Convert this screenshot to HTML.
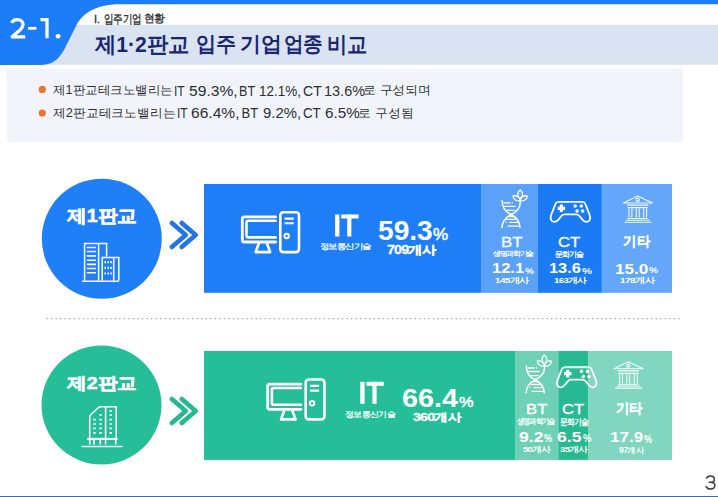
<!DOCTYPE html><html><head><meta charset="utf-8"><style>*{margin:0;padding:0}html,body{width:718px;height:497px;overflow:hidden;background:#fff}body{position:relative;font-family:"Liberation Sans",sans-serif}.t{position:absolute;white-space:nowrap;line-height:1;transform-origin:0 0}svg{position:absolute;left:0;top:0}</style></head><body><svg width="718" height="497" viewBox="0 0 718 497">
  
  <rect x="0" y="24.8" width="718" height="40" fill="#dae3f1"/>
  <path d="M0 0 H718 V4.3 H120 C95 4.3 82 14 76 26 L64 50 C58 60 52 65 40 65 H0 Z" fill="#1d7cf8"/>
  <g fill="none" stroke="#fff" stroke-width="3.3">
    <path d="M11.7 22.8 C12.6 20.6 14.6 19.6 17.3 19.6 C20.6 19.6 23 21.6 23 24.6 C23 26.6 22 28 20.3 29.7 L12.2 36.85 H25.3" stroke-linejoin="round"/>
    <path d="M28.1 28.3 H36.5" stroke-width="2.7"/>
    <path d="M40.5 19.55 H47 V38.3" stroke-width="3.3"/>
  </g>
  <circle cx="58.1" cy="36.3" r="2.4" fill="#fff"/>
  <rect x="6.5" y="68.3" width="676.5" height="73.8" fill="#f1f5fb"/>
  <circle cx="42.3" cy="89.4" r="3.6" fill="#e8772e"/>
  <circle cx="42.3" cy="113" r="3.6" fill="#e8772e"/>
  <!-- section 1 -->
  <circle cx="101.8" cy="238.8" r="60" fill="#1f7ff7"/>
  <rect x="204" y="184" width="277.7" height="108.8" fill="#1d7ef8"/>
  <rect x="481.7" y="184" width="56.3" height="108.8" fill="#5ca1f8"/>
  <rect x="538" y="184" width="63.9" height="108.8" fill="#1a7bf5"/>
  <rect x="601.9" y="184" width="70.1" height="108.8" fill="#64a6f9"/>
  <!-- section 2 -->
  <ellipse cx="101.5" cy="405.05" rx="60" ry="59.5" fill="#25be98"/>
  <rect x="204" y="351" width="311" height="108.9" fill="#25be98"/>
  <rect x="515" y="351" width="43.3" height="108.9" fill="#6ed0b4"/>
  <rect x="558.3" y="351" width="30.2" height="108.9" fill="#27b991"/>
  <rect x="588.5" y="351" width="83.5" height="108.9" fill="#80d6bf"/>
  <!-- dotted line -->
  <line x1="46.4" y1="318.7" x2="680" y2="318.7" stroke="#a6a6a6" stroke-width="1.2" stroke-dasharray="1.4 3.146"/>
  <rect x="0" y="496" width="718" height="1" fill="#3d6aa6"/>
  <path d="M706.6 478 C707.5 476.5 709 475.9 710.6 475.9 C712.8 475.9 714.3 477.3 714.3 479.2 C714.3 481 712.8 482.3 710.8 482.3 H709.2 M710.8 482.3 C713.2 482.3 714.9 483.7 714.9 485.6 C714.9 487.6 713 489.1 710.6 489.1 C708.6 489.1 707 488.2 706.1 486.6" fill="none" stroke="#3a3a3a" stroke-width="1.5" stroke-linecap="round"/>
  <!-- chevrons -->
  <path d="M171.8 222.9 L185.8 235.1 L171.8 246.9 M181.7 222.9 L195.7 235.1 L181.7 246.9" fill="none" stroke="#2474e8" stroke-width="4.6" stroke-linecap="round" stroke-linejoin="round"/>
  <path d="M171.8 399 L185.8 411 L171.8 423 M181.7 399 L195.7 411 L181.7 423" fill="none" stroke="#25b891" stroke-width="4.6" stroke-linecap="round" stroke-linejoin="round"/>
  <!-- building 1 -->
  <g fill="none" stroke="#fff" stroke-width="1.5">
    <path d="M82.2 281.2 H119"/>
    <path d="M84.6 280.5 V243.6 H106.6 V256.5 M98.6 243.6 V280.5"/>
    <path d="M86.8 247.5 H96 M86.8 251.5 H96 M86.8 255.9 H96 M86.8 260.2 H96 M86.8 264.4 H96 M86.8 268.5 H96 M86.8 272.8 H96" stroke-width="1.6"/>
    <path d="M102.2 280.5 V257.4 H118.8 V280.5 M113.7 257.4 V280.5"/>
    <path d="M104.5 262.1 H106 M107.5 262.1 H109 M110.3 262.1 H111.8 M104.5 267.9 H106 M107.5 267.9 H109 M110.3 267.9 H111.8 M104.5 273.5 H106 M107.5 273.5 H109 M110.3 273.5 H111.8" stroke-width="2.2"/>
  </g>
  <!-- building 2 -->
  <g fill="none" stroke="#fff" stroke-width="1.5">
    <path d="M81.4 446.6 H122.5"/>
    <path d="M89.7 438.2 V417.5 Q89.7 415.5 91 414.5 L98.5 407.6 Q99 406.8 100.3 406.8 H116.2 V438.2 M105.6 406.8 V444.5"/>
    <path d="M87.2 438.9 H117.6" stroke-width="2"/>
    <path d="M89.7 439 V444.5 M94 439 V444.5 M100.3 439 V444.5 M115.7 439 V444.5" stroke-width="1.6"/>
    <path d="M99.3 415 H101.8 M93.3 419.7 H95.8 M99.3 419.7 H101.8 M93.3 424 H95.8 M99.3 424 H101.8 M93.3 428.4 H95.8 M99.3 428.4 H101.8 M93.3 432.9 H95.8 M99.3 432.9 H101.8 M109.5 411.2 H112 M109.5 415 H112 M109.5 419.7 H112 M109.5 424 H112 M109.5 428.4 H112 M109.5 432.9 H112" stroke-width="1.7"/>
  </g>
  <g fill="#fff">
    <rect x="335.1" y="214.5" width="4.3" height="22"/>
    <rect x="341.2" y="214.5" width="17.4" height="4"/>
    <rect x="347.2" y="214.5" width="4.2" height="22"/>
  </g>
  <g transform="translate(25.2 167.3)"><g fill="#fff">
    <rect x="335.1" y="214.5" width="4.3" height="22"/>
    <rect x="341.2" y="214.5" width="17.4" height="4"/>
    <rect x="347.2" y="214.5" width="4.2" height="22"/>
  </g></g>
  <g fill="none" stroke="#fff" stroke-linecap="round" stroke-linejoin="round">
      <path d="M275.6 216.9 H244.3 Q242.3 216.9 242.3 218.9 V240 Q242.3 242 244.3 242 H275.6" stroke-width="2.8"/>
      <path d="M275.6 220.7 H248.3 Q246.5 220.7 246.5 222.5 V235.6 Q246.5 237.4 248.3 237.4 H275.6" stroke-width="2.6"/>
      <path d="M258.8 243.5 L255.6 252.1 H270.2 L267 243.5" stroke-width="2.6"/>
      <rect x="280.3" y="212.2" width="18.7" height="39.9" rx="3" stroke-width="2.6"/>
      <path d="M284.6 218.6 H293.7 M284.6 223.3 H293.7" stroke-width="2.1" stroke-linecap="butt"/>
      <circle cx="286.7" cy="236" r="2.2" stroke-width="2"/>
    </g>
  <g transform="translate(25.4 167.3)"><g fill="none" stroke="#fff" stroke-linecap="round" stroke-linejoin="round">
      <path d="M275.6 216.9 H244.3 Q242.3 216.9 242.3 218.9 V240 Q242.3 242 244.3 242 H275.6" stroke-width="2.8"/>
      <path d="M275.6 220.7 H248.3 Q246.5 220.7 246.5 222.5 V235.6 Q246.5 237.4 248.3 237.4 H275.6" stroke-width="2.6"/>
      <path d="M258.8 243.5 L255.6 252.1 H270.2 L267 243.5" stroke-width="2.6"/>
      <rect x="280.3" y="212.2" width="18.7" height="39.9" rx="3" stroke-width="2.6"/>
      <path d="M284.6 218.6 H293.7 M284.6 223.3 H293.7" stroke-width="2.1" stroke-linecap="butt"/>
      <circle cx="286.7" cy="236" r="2.2" stroke-width="2"/>
    </g></g>
  <g fill="none" stroke="#fff" stroke-width="1.5" stroke-linecap="round">
      <path d="M502.1 200.5 C502.1 207.5 505.5 212 511 214.5 C505.5 217.5 502.1 222 502.1 227.5"/>
      <path d="M520.3 202.2 C520.3 208.5 516.5 212 511 214.5 C516.5 217.5 519.9 222 519.9 227.5"/>
      <path d="M503.8 202.8 H510.3 M512.4 202.8 H512.5 M504.5 206.3 H515.1 M506.2 210.4 H513 M514.4 210.4 H514.5 M508.3 216.5 H514.4 M506.9 219.3 H516.5 M506.2 222.4 H506.3 M510 222.4 H517.9 M507.9 226.1 H518.5" stroke-width="1.3"/>
      <path d="M520.2 189.9 C523.4 192.5 523.4 196 520.2 198.6 C517 196 517 192.5 520.2 189.9 Z" stroke-width="1.3"/>
      <path d="M513 196 C516.5 195 520 197 520.2 200.8 C516.5 201.5 513.5 199.5 513 196 Z" stroke-width="1.3"/>
      <path d="M527.4 196 C523.9 195 520.4 197 520.2 200.8 C523.9 201.5 526.9 199.5 527.4 196 Z" stroke-width="1.3"/>
    </g>
  <g transform="translate(24.2 165.2)"><g fill="none" stroke="#fff" stroke-width="1.5" stroke-linecap="round">
      <path d="M502.1 200.5 C502.1 207.5 505.5 212 511 214.5 C505.5 217.5 502.1 222 502.1 227.5"/>
      <path d="M520.3 202.2 C520.3 208.5 516.5 212 511 214.5 C516.5 217.5 519.9 222 519.9 227.5"/>
      <path d="M503.8 202.8 H510.3 M512.4 202.8 H512.5 M504.5 206.3 H515.1 M506.2 210.4 H513 M514.4 210.4 H514.5 M508.3 216.5 H514.4 M506.9 219.3 H516.5 M506.2 222.4 H506.3 M510 222.4 H517.9 M507.9 226.1 H518.5" stroke-width="1.3"/>
      <path d="M520.2 189.9 C523.4 192.5 523.4 196 520.2 198.6 C517 196 517 192.5 520.2 189.9 Z" stroke-width="1.3"/>
      <path d="M513 196 C516.5 195 520 197 520.2 200.8 C516.5 201.5 513.5 199.5 513 196 Z" stroke-width="1.3"/>
      <path d="M527.4 196 C523.9 195 520.4 197 520.2 200.8 C523.9 201.5 526.9 199.5 527.4 196 Z" stroke-width="1.3"/>
    </g></g>
  <g stroke="#fff" stroke-linejoin="round">
      <path d="M558.5 201.85 H582.3 Q584.6 201.85 585.3 203.9 L589.5 214.5 Q590.8 218 589.8 219.9 Q588.6 222 586.4 221.9 Q584.4 221.8 582.4 219.6 L579.4 216 Q578 214.3 576.2 214.3 H564.6 Q562.8 214.3 561.4 216 L558.4 219.6 Q556.4 221.8 554.4 221.9 Q552.2 222 551 219.9 Q550 218 551.3 214.5 L555.5 203.9 Q556.2 201.85 558.5 201.85 Z" fill="none" stroke-width="1.8"/>
      <path d="M561.4 204.6 V212 M557.7 208.3 H565.1" stroke-width="3.2" stroke-linecap="butt"/>
      <g fill="#fff" stroke="none">
        <circle cx="575.2" cy="206" r="1.8"/><circle cx="581.3" cy="206" r="1.8"/>
        <circle cx="577.1" cy="211.1" r="1.8"/><circle cx="582.6" cy="211.1" r="1.8"/>
      </g>
    </g>
  <g transform="translate(6.3 165.4)"><g stroke="#fff" stroke-linejoin="round">
      <path d="M558.5 201.85 H582.3 Q584.6 201.85 585.3 203.9 L589.5 214.5 Q590.8 218 589.8 219.9 Q588.6 222 586.4 221.9 Q584.4 221.8 582.4 219.6 L579.4 216 Q578 214.3 576.2 214.3 H564.6 Q562.8 214.3 561.4 216 L558.4 219.6 Q556.4 221.8 554.4 221.9 Q552.2 222 551 219.9 Q550 218 551.3 214.5 L555.5 203.9 Q556.2 201.85 558.5 201.85 Z" fill="none" stroke-width="1.8"/>
      <path d="M561.4 204.6 V212 M557.7 208.3 H565.1" stroke-width="3.2" stroke-linecap="butt"/>
      <g fill="#fff" stroke="none">
        <circle cx="575.2" cy="206" r="1.8"/><circle cx="581.3" cy="206" r="1.8"/>
        <circle cx="577.1" cy="211.1" r="1.8"/><circle cx="582.6" cy="211.1" r="1.8"/>
      </g>
    </g></g>
  <g fill="none" stroke="#fff" stroke-width="1.1" opacity="0.92" stroke-linecap="butt">
      <path d="M623.5 203 L637.7 196 L652.5 203 Z" stroke-linejoin="round"/>
      <circle cx="637.7" cy="199.8" r="1.6" stroke-width="1.2"/>
      <path d="M627.1 205.1 H648.3 M627.5 207.6 H648"/>
      <path d="M629 208.5 V217.5 M631.9 208.5 V217.5 M636.3 208.5 V217.5 M639.2 208.5 V217.5 M643.7 208.5 V217.5 M646.6 208.5 V217.5"/>
      <path d="M627.7 218.5 H647.7 M626.1 220.2 H649.6 M624.5 222.3 H651.6"/>
    </g>
  <g transform="translate(-9.4 165.8)"><g fill="none" stroke="#fff" stroke-width="1.1" opacity="0.92" stroke-linecap="butt">
      <path d="M623.5 203 L637.7 196 L652.5 203 Z" stroke-linejoin="round"/>
      <circle cx="637.7" cy="199.8" r="1.6" stroke-width="1.2"/>
      <path d="M627.1 205.1 H648.3 M627.5 207.6 H648"/>
      <path d="M629 208.5 V217.5 M631.9 208.5 V217.5 M636.3 208.5 V217.5 M639.2 208.5 V217.5 M643.7 208.5 V217.5 M646.6 208.5 V217.5"/>
      <path d="M627.7 218.5 H647.7 M626.1 220.2 H649.6 M624.5 222.3 H651.6"/>
    </g></g>
</svg>

<div class="t" style="left:93.90px;top:14.10px;font-size:10px;font-weight:normal;color:#2e2e2e;transform:scale(1.1000,1.1625);-webkit-text-stroke:0.3px #2e2e2e;">I.</div>
<div class="t" style="left:104.05px;top:12.91px;font-size:10px;font-weight:normal;color:#2e2e2e;transform:scale(0.9486,1.1875);-webkit-text-stroke:0.3px #2e2e2e;">입주기업</div>
<div class="t" style="left:143.97px;top:14.10px;font-size:10px;font-weight:normal;color:#2e2e2e;transform:scale(1.0278,1.0556);-webkit-text-stroke:0.3px #2e2e2e;">현황</div>
<div class="t" style="left:95.20px;top:33.12px;font-size:20px;font-weight:bold;color:#1a2670;transform:scale(1.0568,1.0889);">제1·2판교</div>
<div class="t" style="left:195.91px;top:33.24px;font-size:20px;font-weight:bold;color:#1a2670;transform:scale(0.9868,1.0316);">입주</div>
<div class="t" style="left:239.97px;top:33.24px;font-size:20px;font-weight:bold;color:#1a2670;transform:scale(1.0278,1.0316);">기업</div>
<div class="t" style="left:284.34px;top:33.24px;font-size:20px;font-weight:bold;color:#1a2670;transform:scale(0.9605,1.0316);">업종</div>
<div class="t" style="left:327.20px;top:33.12px;font-size:20px;font-weight:bold;color:#1a2670;transform:scale(1.0000,1.0889);">비교</div>
<div class="t" style="left:53.23px;top:83.67px;font-size:13px;font-weight:normal;color:#2e2e2e;transform:scale(0.9661,0.9250);">제1판교테크노밸리는</div>
<div class="t" style="left:174.07px;top:82.77px;font-size:13px;font-weight:normal;color:#2e2e2e;transform:scale(0.9300,1.1667);">IT</div>
<div class="t" style="left:188.50px;top:82.77px;font-size:13px;font-weight:normal;color:#2e2e2e;transform:scale(1.2026,1.1667);">59.3%,</div>
<div class="t" style="left:238.93px;top:82.77px;font-size:13px;font-weight:normal;color:#2e2e2e;transform:scale(0.9667,1.1667);">BT</div>
<div class="t" style="left:259.46px;top:82.77px;font-size:13px;font-weight:normal;color:#2e2e2e;transform:scale(1.0395,1.1667);">12.1%,</div>
<div class="t" style="left:302.82px;top:82.77px;font-size:13px;font-weight:normal;color:#2e2e2e;transform:scale(1.0813,1.1667);">CT</div>
<div class="t" style="left:323.99px;top:82.77px;font-size:13px;font-weight:normal;color:#2e2e2e;transform:scale(1.1143,1.1667);">13.6%</div>
<div class="t" style="left:362.81px;top:83.67px;font-size:13px;font-weight:normal;color:#2e2e2e;transform:scale(0.9954,0.9250);">로 구성되며</div>
<div class="t" style="left:53.21px;top:107.27px;font-size:13px;font-weight:normal;color:#2e2e2e;transform:scale(0.9876,0.9333);">제2판교테크노밸리는</div>
<div class="t" style="left:176.88px;top:106.36px;font-size:13px;font-weight:normal;color:#2e2e2e;transform:scale(0.9200,1.1222);">IT</div>
<div class="t" style="left:190.80px;top:106.36px;font-size:13px;font-weight:normal;color:#2e2e2e;transform:scale(1.2000,1.1222);">66.4%,</div>
<div class="t" style="left:241.50px;top:106.36px;font-size:13px;font-weight:normal;color:#2e2e2e;transform:scale(1.0000,1.1222);">BT</div>
<div class="t" style="left:263.05px;top:106.36px;font-size:13px;font-weight:normal;color:#2e2e2e;transform:scale(1.1452,1.1222);">9.2%,</div>
<div class="t" style="left:303.18px;top:106.36px;font-size:13px;font-weight:normal;color:#2e2e2e;transform:scale(1.0250,1.1222);">CT</div>
<div class="t" style="left:324.53px;top:106.36px;font-size:13px;font-weight:normal;color:#2e2e2e;transform:scale(1.1714,1.1222);">6.5%</div>
<div class="t" style="left:357.60px;top:107.27px;font-size:13px;font-weight:normal;color:#2e2e2e;transform:scale(0.9981,0.9333);">로 구성됨</div>
<div class="t" style="left:67.30px;top:207.01px;font-size:18px;font-weight:bold;color:#ffffff;transform:scale(1.0905,0.9941);-webkit-text-stroke:0.5px #fff;">제1판교</div>
<div class="t" style="left:67.30px;top:374.76px;font-size:18px;font-weight:bold;color:#ffffff;transform:scale(1.0905,0.9412);-webkit-text-stroke:0.5px #fff;">제2판교</div>
<div class="t" style="left:319.74px;top:243.00px;font-size:9px;font-weight:normal;color:#ffffff;transform:scale(1.0596,0.9000);letter-spacing:-0.12em;-webkit-text-stroke:0.25px #fff;">정보통신기술</div>
<div class="t" style="left:377.92px;top:217.26px;font-size:26px;font-weight:bold;color:#ffffff;transform:scale(1.0816,1.0611);">59.3</div>
<div class="t" style="left:432.69px;top:227.16px;font-size:13px;font-weight:normal;color:#ffffff;transform:scale(1.3100,1.2222);-webkit-text-stroke:0.4px #fff;">%</div>
<div class="t" style="left:386.90px;top:244.08px;font-size:13px;font-weight:bold;color:#ffffff;transform:scale(1.0977,0.9167);letter-spacing:-0.06em;-webkit-text-stroke:0.3px #fff;">709개사</div>
<div class="t" style="left:501.44px;top:234.54px;font-size:16px;font-weight:normal;color:#ffffff;transform:scale(1.0579,0.9583);-webkit-text-stroke:0.35px #fff;">BT</div>
<div class="t" style="left:492.72px;top:250.35px;font-size:7px;font-weight:normal;color:#ffffff;transform:scale(1.0778,0.9500);letter-spacing:-0.12em;-webkit-text-stroke:0.25px #fff;">생명과학기술</div>
<div class="t" style="left:491.57px;top:260.85px;font-size:16px;font-weight:bold;color:#ffffff;transform:scale(1.0300,0.9500);">12.1</div>
<div class="t" style="left:524.80px;top:265.62px;font-size:9px;font-weight:bold;color:#ffffff;transform:scale(1.1125,1.0833);">%</div>
<div class="t" style="left:495.41px;top:277.40px;font-size:10px;font-weight:bold;color:#ffffff;transform:scale(0.9879,0.7700);letter-spacing:-0.06em;">145개사</div>
<div class="t" style="left:557.96px;top:234.54px;font-size:16px;font-weight:normal;color:#ffffff;transform:scale(1.0400,0.9583);-webkit-text-stroke:0.35px #fff;">CT</div>
<div class="t" style="left:554.86px;top:250.16px;font-size:7px;font-weight:normal;color:#ffffff;transform:scale(1.1435,1.1400);letter-spacing:-0.12em;-webkit-text-stroke:0.25px #fff;">문화기술</div>
<div class="t" style="left:548.98px;top:260.85px;font-size:16px;font-weight:bold;color:#ffffff;transform:scale(1.0233,0.9500);">13.6</div>
<div class="t" style="left:582.20px;top:265.62px;font-size:9px;font-weight:bold;color:#ffffff;transform:scale(1.2500,1.0833);">%</div>
<div class="t" style="left:553.65px;top:277.40px;font-size:10px;font-weight:bold;color:#ffffff;transform:scale(0.9515,0.7700);letter-spacing:-0.06em;">163개사</div>
<div class="t" style="left:622.75px;top:234.11px;font-size:16px;font-weight:bold;color:#ffffff;transform:scale(0.8516,0.8929);-webkit-text-stroke:0.2px #fff;">기타</div>
<div class="t" style="left:614.83px;top:260.63px;font-size:16px;font-weight:bold;color:#ffffff;transform:scale(1.0700,0.9667);">15.0</div>
<div class="t" style="left:649.30px;top:265.85px;font-size:9px;font-weight:bold;color:#ffffff;transform:scale(1.1375,1.0500);">%</div>
<div class="t" style="left:619.78px;top:276.80px;font-size:10px;font-weight:bold;color:#ffffff;transform:scale(1.0152,0.8000);letter-spacing:-0.06em;">178개사</div>
<div class="t" style="left:344.75px;top:410.00px;font-size:9px;font-weight:normal;color:#ffffff;transform:scale(1.0511,0.9375);letter-spacing:-0.12em;-webkit-text-stroke:0.25px #fff;">정보통신기술</div>
<div class="t" style="left:402.19px;top:385.86px;font-size:26px;font-weight:bold;color:#ffffff;transform:scale(1.1080,0.9611);">66.4</div>
<div class="t" style="left:458.54px;top:394.04px;font-size:13px;font-weight:normal;color:#ffffff;transform:scale(1.2600,1.1778);-webkit-text-stroke:0.4px #fff;">%</div>
<div class="t" style="left:413.10px;top:411.32px;font-size:13px;font-weight:bold;color:#ffffff;transform:scale(1.0955,0.8833);letter-spacing:-0.06em;-webkit-text-stroke:0.3px #fff;">360개사</div>
<div class="t" style="left:525.65px;top:402.27px;font-size:16px;font-weight:normal;color:#ffffff;transform:scale(1.0474,0.9250);-webkit-text-stroke:0.35px #fff;">BT</div>
<div class="t" style="left:517.39px;top:417.38px;font-size:7px;font-weight:normal;color:#ffffff;transform:scale(1.0139,1.1167);letter-spacing:-0.12em;-webkit-text-stroke:0.25px #fff;">생명과학기술</div>
<div class="t" style="left:519.20px;top:429.96px;font-size:16px;font-weight:bold;color:#ffffff;transform:scale(1.1000,0.9417);">9.2</div>
<div class="t" style="left:544.40px;top:433.80px;font-size:9px;font-weight:bold;color:#ffffff;transform:scale(1.0250,1.2000);">%</div>
<div class="t" style="left:522.98px;top:446.30px;font-size:10px;font-weight:bold;color:#ffffff;transform:scale(0.9179,0.7500);letter-spacing:-0.06em;">50개사</div>
<div class="t" style="left:562.25px;top:402.27px;font-size:16px;font-weight:normal;color:#ffffff;transform:scale(1.0450,0.9250);-webkit-text-stroke:0.35px #fff;">CT</div>
<div class="t" style="left:560.05px;top:417.16px;font-size:7px;font-weight:normal;color:#ffffff;transform:scale(1.1522,1.3400);letter-spacing:-0.12em;-webkit-text-stroke:0.25px #fff;">문화기술</div>
<div class="t" style="left:557.10px;top:429.96px;font-size:16px;font-weight:bold;color:#ffffff;transform:scale(1.1000,0.9417);">6.5</div>
<div class="t" style="left:582.50px;top:433.80px;font-size:9px;font-weight:bold;color:#ffffff;transform:scale(1.0375,1.2000);">%</div>
<div class="t" style="left:560.26px;top:446.30px;font-size:10px;font-weight:bold;color:#ffffff;transform:scale(0.9393,0.7500);letter-spacing:-0.06em;">35개사</div>
<div class="t" style="left:616.36px;top:402.42px;font-size:16px;font-weight:bold;color:#ffffff;transform:scale(0.8419,0.8786);-webkit-text-stroke:0.2px #fff;">기타</div>
<div class="t" style="left:610.23px;top:429.84px;font-size:16px;font-weight:bold;color:#ffffff;transform:scale(1.0667,0.9583);">17.9</div>
<div class="t" style="left:644.10px;top:433.78px;font-size:9px;font-weight:bold;color:#ffffff;transform:scale(1.0125,1.2167);">%</div>
<div class="t" style="left:618.50px;top:445.60px;font-size:10px;font-weight:bold;color:#ffffff;transform:scale(0.8552,0.8200);letter-spacing:-0.06em;">97개사</div>
</body></html>
